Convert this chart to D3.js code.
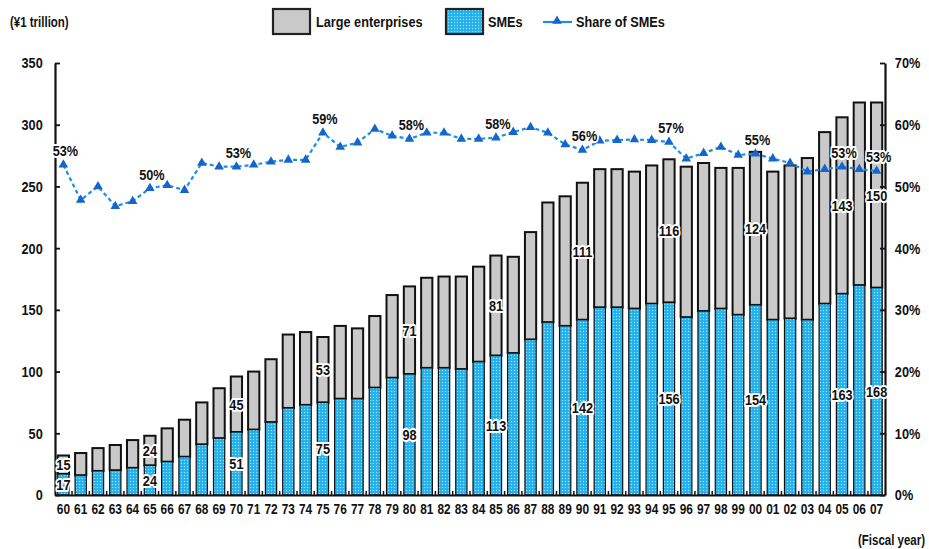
<!DOCTYPE html>
<html>
<head>
<meta charset="utf-8">
<script src="https://cdn.jsdelivr.net/npm/d3@7"></script>
<style>
  html, body { margin: 0; padding: 0; background: #fff; }
  svg { display: block; }
  text { font-family: "Liberation Sans", Arial, sans-serif; font-weight: bold; fill: #111; }
</style>
</head>
<body>
<svg id="chart" width="929" height="549"></svg>
<script>
// Fiscal years
const years = ["60","61","62","63","64","65","66","67","68","69",
               "70","71","72","73","74","75","76","77","78","79",
               "80","81","82","83","84","85","86","87","88","89",
               "90","91","92","93","94","95","96","97","98","99",
               "00","01","02","03","04","05","06","07"];

// SMEs (¥1 trillion)
const smeValues = [17,16,19.5,20,22,24,27,31,41,46,
                   51,53,59,70.5,73,75,78,78,87,95,
                   98,103,103,102,108,113,115,126,140,137,
                   142,152,152,151,155,156,144,149,151,146,
                   154,142,143,142,155,163,170,168];

// Large enterprises (¥1 trillion)
const largeValues = [15,18,18.5,20.5,22.5,24,27,30,34,40.5,
                     45,47,51,59.5,59,53,59,57,58,67,
                     71,73,74,75,77,81,78,87,97,105,
                     111,112,112,111,112,116,122,120,114,119,
                     124,120,124,131,139,143,148,150];

// Share of SMEs (%)
const shareValues = [53.5,47.8,50,46.8,47.6,49.7,50.2,49.4,53.8,53.2,
                     53.2,53.5,54,54.3,54.3,58.7,56.4,57.1,59.3,58.2,
                     57.7,58.7,58.7,57.7,57.7,57.9,58.8,59.6,58.7,56.8,
                     55.9,57.4,57.5,57.6,57.5,57.2,54.5,55.4,56.4,55.1,
                     55.3,54.5,53.8,52.4,52.8,53.2,52.8,52.5];

// Years whose values are written on the chart
const labelYears = ["60","65","70","75","80","85","90","95","00","05","07"];
const shareLabelText = ["53%","50%","53%","59%","58%","58%","56%","57%","55%","53%","53%"];

// Axis ticks
const leftTicks = [0,50,100,150,200,250,300,350];
const rightTicks = [0,10,20,30,40,50,60,70];

const svg = d3.select("#chart");
const plotLeft = 55, plotRight = 885, plotTop = 63, plotBottom = 495;
const NARROW = 0.82; // horizontal squeeze giving a condensed face

const x = d3.scaleBand().domain(years).range([plotLeft, plotRight]).paddingInner(0.35).paddingOuter(0.16);
const y = d3.scaleLinear().domain([0, 350]).range([plotBottom, plotTop]);
const y2 = d3.scaleLinear().domain([0, 70]).range([plotBottom, plotTop]);

// dotted fill for SMEs
const defs = svg.append("defs");
const pat = defs.append("pattern").attr("id", "smeDots")
  .attr("patternUnits", "userSpaceOnUse").attr("width", 3).attr("height", 3);
pat.append("rect").attr("width", 3).attr("height", 3).attr("fill", "#22b0ea");
pat.append("circle").attr("cx", 1.5).attr("cy", 1.5).attr("r", 0.75).attr("fill", "#95dcf8");

const rows = years.map((yr, i) => ({ yr, sme: smeValues[i], large: largeValues[i], share: shareValues[i] }));

// condensed text placed at (px, py)
function narrowText(parent, px, py, str, size, anchor) {
  const g = parent.append("g").attr("transform", `translate(${px},${py}) scale(${NARROW},1)`);
  return g.append("text").attr("text-anchor", anchor || "start").attr("dominant-baseline", "central")
    .style("font-size", size + "px").text(str);
}

// stacked bars
const bars = svg.append("g");
bars.selectAll("rect.large").data(rows).join("rect")
  .attr("class", "large")
  .attr("x", d => x(d.yr)).attr("width", x.bandwidth())
  .attr("y", d => y(d.sme + d.large)).attr("height", d => y(d.sme) - y(d.sme + d.large))
  .attr("fill", "#c9c9c9").attr("stroke", "#111").attr("stroke-width", 2);
bars.selectAll("rect.sme").data(rows).join("rect")
  .attr("class", "sme")
  .attr("x", d => x(d.yr)).attr("width", x.bandwidth())
  .attr("y", d => y(d.sme)).attr("height", d => y(0) - y(d.sme))
  .attr("fill", "url(#smeDots)").attr("stroke", "#111").attr("stroke-width", 1.2);

// axes
const axL = svg.append("g").attr("transform", `translate(${plotLeft},0)`)
  .call(d3.axisLeft(y).tickValues(leftTicks).tickSize(-5).tickSizeOuter(0).tickPadding(15));
const axR = svg.append("g").attr("transform", `translate(${plotRight},0)`)
  .call(d3.axisRight(y2).tickValues(rightTicks).tickSize(-5).tickSizeOuter(0).tickPadding(12).tickFormat(d => d + "%"));
const axB = svg.append("g").attr("transform", `translate(0,${plotBottom})`)
  .call(d3.axisBottom(x).tickSize(0).tickSizeOuter(0).tickPadding(9));

[axL, axR, axB].forEach(g => {
  g.select(".domain").attr("stroke", "#111").attr("stroke-width", 2.2);
  g.selectAll(".tick line").attr("stroke", "#111").attr("stroke-width", 1.8);
  g.selectAll(".tick text").attr("font-family", null).attr("font-size", null)
    .style("font-size", "15.5px").attr("fill", "#111")
    .attr("transform", `scale(${NARROW},1)`);
});
axB.selectAll(".tick text").style("font-size", "14.5px");

// small ticks between year bands on the baseline
const step = x.step();
svg.append("g").selectAll("line").data(years.slice(1)).join("line")
  .attr("x1", d => x(d) - step * x.paddingInner() / 2)
  .attr("x2", d => x(d) - step * x.paddingInner() / 2)
  .attr("y1", plotBottom).attr("y2", plotBottom - 4)
  .attr("stroke", "#111").attr("stroke-width", 1.5);

// share line
const line = d3.line().x(d => x(d.yr) + x.bandwidth() / 2).y(d => y2(d.share));
svg.append("path").datum(rows).attr("d", line)
  .attr("fill", "none").attr("stroke", "#1f8ee0").attr("stroke-width", 2.2)
  .attr("stroke-dasharray", "4,3");
const tri = d3.symbol().type(d3.symbolTriangle).size(40);
svg.append("g").selectAll("path").data(rows).join("path")
  .attr("d", tri)
  .attr("transform", d => `translate(${x(d.yr) + x.bandwidth() / 2},${y2(d.share)})`)
  .attr("fill", "#1466cc");

// value labels
const labelRows = rows.filter(d => labelYears.includes(d.yr));
const halo = sel => sel.attr("stroke", "#fff").attr("stroke-width", 4).attr("paint-order", "stroke")
  .attr("stroke-linejoin", "round");
function labelLayer(getY, getText, size, dx) {
  svg.append("g").selectAll("g").data(labelRows).join("g")
    .attr("transform", (d, i) => `translate(${x(d.yr) + x.bandwidth() / 2 + dx},${getY(d)}) scale(${NARROW},1)`)
    .append("text").attr("text-anchor", "middle").attr("dominant-baseline", "central")
    .style("font-size", size + "px").text(getText).call(halo);
}
labelLayer(d => y(d.sme / 2), d => d.sme, 15.5, 0);
labelLayer(d => y(d.sme + d.large / 2), d => d.large, 15.5, 0);
labelLayer(d => y2(d.share) - 14, (d, i) => shareLabelText[i], 15.5, 2);

// unit labels
narrowText(svg, 10, 22, "(¥1 trillion)", 14);
narrowText(svg, 925, 540, "(Fiscal year)", 14, "end");

// legend
const lg = svg.append("g");
lg.append("rect").attr("x", 273).attr("y", 9).attr("width", 37).attr("height", 25)
  .attr("fill", "#c9c9c9").attr("stroke", "#222").attr("stroke-width", 2.2);
narrowText(lg, 316, 22, "Large enterprises", 15.5);
lg.append("rect").attr("x", 446).attr("y", 9).attr("width", 37).attr("height", 25)
  .attr("fill", "url(#smeDots)").attr("stroke", "#222").attr("stroke-width", 2.2);
narrowText(lg, 488, 22, "SMEs", 15.5);
lg.append("line").attr("x1", 543).attr("x2", 572).attr("y1", 22).attr("y2", 22)
  .attr("stroke", "#1f8ee0").attr("stroke-width", 2.2);
lg.append("path").attr("d", tri).attr("transform", "translate(557,21)").attr("fill", "#1466cc");
narrowText(lg, 576, 22, "Share of SMEs", 15.5);
</script>
</body>
</html>
